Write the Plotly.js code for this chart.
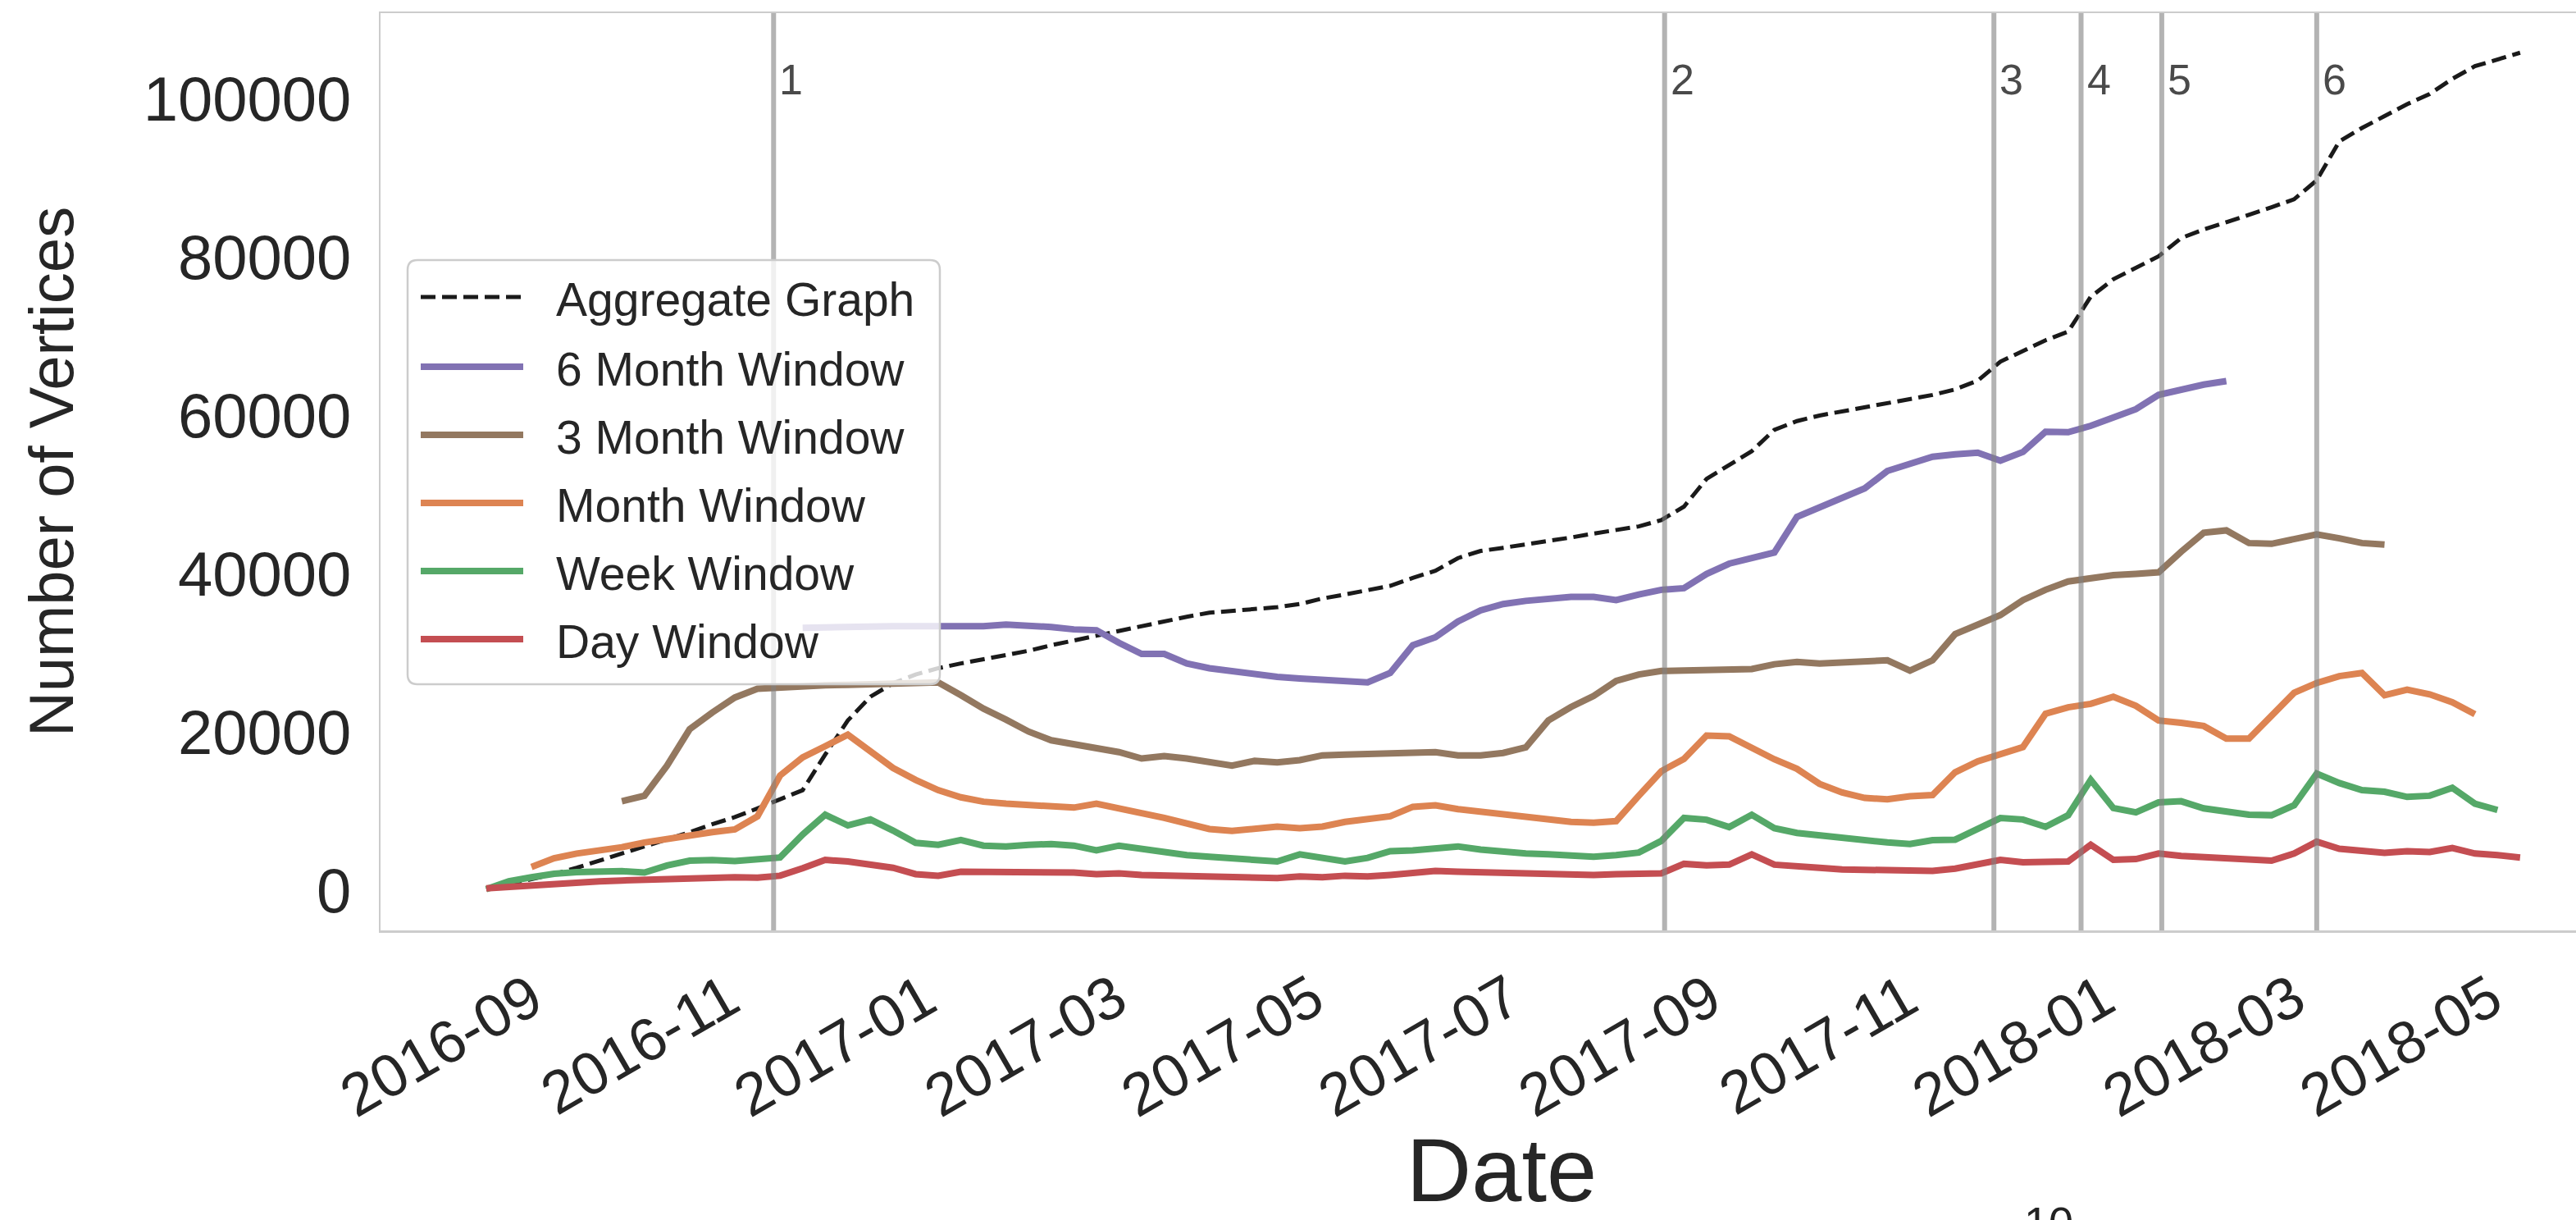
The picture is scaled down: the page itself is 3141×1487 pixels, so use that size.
<!DOCTYPE html>
<html>
<head>
<meta charset="utf-8">
<script src="https://cdn.plot.ly/plotly-3.0.1.min.js"></script>
<style>html,body{margin:0;padding:0;overflow:hidden;background:#fff}</style>
</head>
<body>
<div id="chart" style="width:3200px;height:1487px"></div>
<script>
// ---------- data ----------
const dates = [
 '2016-08-18','2016-08-25','2016-09-01','2016-09-08','2016-09-15','2016-09-22','2016-09-29','2016-10-06','2016-10-13','2016-10-20',
 '2016-10-27','2016-11-03','2016-11-10','2016-11-17','2016-11-24','2016-12-01','2016-12-08','2016-12-15','2016-12-22','2016-12-29',
 '2017-01-05','2017-01-12','2017-01-19','2017-01-26','2017-02-02','2017-02-09','2017-02-16','2017-02-23','2017-03-02','2017-03-09',
 '2017-03-16','2017-03-23','2017-03-30','2017-04-06','2017-04-13','2017-04-20','2017-04-27','2017-05-04','2017-05-11','2017-05-18',
 '2017-05-25','2017-06-01','2017-06-08','2017-06-15','2017-06-22','2017-06-29','2017-07-06','2017-07-13','2017-07-20','2017-07-27',
 '2017-08-03','2017-08-10','2017-08-17','2017-08-24','2017-08-31','2017-09-07','2017-09-14','2017-09-21','2017-09-28','2017-10-05',
 '2017-10-12','2017-10-19','2017-10-26','2017-11-02','2017-11-09','2017-11-16','2017-11-23','2017-11-30','2017-12-07','2017-12-14',
 '2017-12-21','2017-12-28','2018-01-04','2018-01-11','2018-01-18','2018-01-25','2018-02-01','2018-02-08','2018-02-15','2018-02-22',
 '2018-03-01','2018-03-08','2018-03-15','2018-03-22','2018-03-29','2018-04-05','2018-04-12','2018-04-19','2018-04-26','2018-05-03',
 '2018-05-10'];

const aggregate = [
 200,800,1400,2100,2900,3800,4700,5500,6500,7400,
 8400,9300,10400,11500,12700,17200,21500,24500,26200,27300,
 28100,28700,29200,29700,30300,31000,31600,32300,32900,33500,
 34000,34600,35100,35300,35600,35800,36200,36900,37400,37900,
 38500,39500,40400,42000,42900,43300,43700,44100,44600,45100,
 45500,46000,46800,48500,52000,53800,55500,58200,59300,60000,
 60500,61000,61500,62000,62600,63300,64400,66800,68200,69500,
 70600,75000,77200,78700,80100,82400,83500,84400,85300,86300,
 87300,89700,94600,96300,97800,99300,100600,102500,104100,105000,
 105800];

const sixMonth = [
 null,null,null,null,null,null,null,null,null,null,
 null,null,null,null,33200,33300,33300,33400,33400,33400,
 33400,33300,33400,33600,33500,33300,33000,32900,31300,29900,
 29900,28700,28100,27700,27400,27000,26800,26600,26400,26300,
 27500,31000,32000,34000,35400,36200,36600,36900,37100,37100,
 36700,37400,38000,38200,40000,41300,42000,42700,47200,48400,
 49700,50800,53000,53900,54800,55100,55300,54300,55400,57950,
 57900,58700,59800,60800,62600,63300,63900,64350,null,null,
 null,null,null,null,null,null,null,null,null,null,
 null];

const threeMonth = [
 null,null,null,null,null,null,11300,12000,15800,20400,
 22500,24400,25500,25700,25850,25950,26000,26100,26150,26200,
 26300,24700,23000,21600,20100,19000,18500,18100,17500,16700,
 17000,16700,16300,15800,16400,16200,16500,17100,17200,17300,
 17400,17400,17500,17100,17100,17400,18100,21500,23200,24600,
 26500,27300,27750,27800,27850,27900,28000,28600,28900,28700,
 28800,29000,29100,27800,29100,32400,33500,34800,36700,38000,
 39050,39500,39850,40000,40200,42800,45200,45500,43900,43800,
 44500,45000,44500,43900,43700,null,null,null,null,null,
 null];

const month = [
 null,null,3000,4100,4700,5050,5500,6100,6600,7000,
 7400,7750,9400,14550,16850,18250,19700,17600,15500,14000,
 12700,11800,11250,11000,10800,10800,10500,11000,10300,9800,
 9200,8500,7800,7550,7900,8100,7900,8100,8700,9000,
 9400,10600,10800,10300,10000,9700,9200,8900,8700,8600,
 8800,12000,15100,16650,19600,19500,17950,16600,15400,13500,
 12400,11720,11550,11930,12080,14960,16350,17150,18150,22350,
 23160,23600,24500,23350,21500,21200,20800,19200,19200,22100,
 25000,26240,27100,27500,24700,25400,24800,23800,22300,null,
 null];

const week = [
 200,1200,1700,2150,2350,2450,2480,2300,3200,3800,
 3880,3750,3900,4200,7100,9600,8250,9000,7600,6060,
 5800,6400,5700,5600,5800,5900,5700,5100,5700,5300,
 4800,4500,4300,4100,3900,3700,4600,4100,3700,4150,
 5000,5100,5400,5600,5200,4900,4700,4600,4400,4300,
 4500,4830,6300,9200,8970,8040,9600,7900,7300,6950,
 6600,6300,6100,5900,6400,6450,7900,9180,9000,8080,
 9540,14000,10440,9900,11150,11300,10400,10000,9600,9540,
 10800,14800,13600,12700,12500,11850,12000,13000,11000,10200,
 null];

const day = [
 300,500,800,1000,1100,1200,1300,1400,1450,1700,
 1800,1700,1650,1900,2850,3900,3700,3300,2900,2100,
 1900,2400,2400,2300,2300,2400,2300,2100,2200,2000,
 1900,2000,1800,1700,1500,1600,1800,1700,1900,1800,
 2000,2300,2500,2400,2300,2200,2200,2100,2100,2000,
 2100,2100,2200,3400,3200,3300,4600,3300,3000,2900,
 2700,2600,2700,2600,2500,2800,3300,3900,3600,3600,
 3700,5800,3900,4000,4700,4400,4200,4000,3900,3800,
 4700,6200,5300,5000,4800,5000,4900,5400,4700,4500,
 4200];

const seriesNames = ['Aggregate Graph','6 Month Window','3 Month Window','Month Window','Week Window','Day Window'];
const eventDates = ['2016-11-15','2017-08-18','2017-11-28','2017-12-25','2018-01-19','2018-03-08'];
const eventLabels = ['1','2','3','4','5','6'];
const yTicks = [0,20000,40000,60000,80000,100000];

// ---------- styling ----------
const colors = ['#1a1a1a','#8172b3','#937860','#dd8452','#55a868','#c44e52'];
const series = [aggregate, sixMonth, threeMonth, month, week, day];
const DASH = '18px,8px';
const FONT = '"Liberation Sans", Arial, Helvetica, sans-serif';
const TXT = '#262626';

// plot area in pixels (paper coordinates helpers for layout-only elements)
const PL = 464, PR = 3198, PT = 16, PB = 1134;
const fx = px => (px - PL) / (PR - PL);
const fy = py => (PB - py) / (PB - PT);

const traces = series.map((vals, k) => ({
  type: 'scatter', mode: 'lines', x: dates, y: vals, name: seriesNames[k],
  line: {color: colors[k], width: k === 0 ? 5 : 8, dash: k === 0 ? DASH : 'solid'},
  showlegend: false, hoverinfo: 'skip'
}));

const shapes = [];
const annotations = [];

// event lines + labels
eventDates.forEach((d, i) => {
  shapes.push({type: 'line', xref: 'x', yref: 'paper', x0: d, x1: d, y0: 0, y1: 1,
    line: {color: 'rgba(128,128,128,0.6)', width: 6}, layer: 'above'});
  annotations.push({xref: 'x', yref: 'paper', x: d, y: fy(97), xanchor: 'left', yanchor: 'middle',
    xshift: 5, text: eventLabels[i], showarrow: false,
    font: {family: FONT, size: 52, color: '#4a4a4a'}});
});

// legend box (rounded, semi-transparent)
function roundRect(x0, y0, x1, y1, r) {
  const X = fx, Y = fy;
  return `M${X(x0+r)},${Y(y0)} L${X(x1-r)},${Y(y0)} Q${X(x1)},${Y(y0)} ${X(x1)},${Y(y0+r)} ` +
         `L${X(x1)},${Y(y1-r)} Q${X(x1)},${Y(y1)} ${X(x1-r)},${Y(y1)} L${X(x0+r)},${Y(y1)} ` +
         `Q${X(x0)},${Y(y1)} ${X(x0)},${Y(y1-r)} L${X(x0)},${Y(y0+r)} Q${X(x0)},${Y(y0)} ${X(x0+r)},${Y(y0)} Z`;
}
shapes.push({type: 'path', xref: 'paper', yref: 'paper', path: roundRect(497, 317, 1146, 834, 12),
  fillcolor: 'rgba(255,255,255,0.8)', line: {color: '#cccccc', width: 2.5}, layer: 'above'});

const rowY = [362, 447, 530, 613, 696, 779];
seriesNames.forEach((nm, k) => {
  shapes.push({type: 'line', xref: 'paper', yref: 'paper', x0: fx(513), x1: fx(638), y0: fy(rowY[k]), y1: fy(rowY[k]),
    line: {color: colors[k], width: k === 0 ? 5 : 8, dash: k === 0 ? DASH : 'solid'}, layer: 'above'});
  annotations.push({xref: 'paper', yref: 'paper', x: fx(676), y: fy(rowY[k] + 3), xanchor: 'left', yanchor: 'middle',
    text: nm, showarrow: false, font: {family: FONT, size: 57, color: TXT}});
});

// partially visible page number at the bottom (cut off in the reference too)
annotations.push({xref: 'paper', yref: 'paper', x: fx(2498), y: fy(1490), xanchor: 'center', yanchor: 'middle',
  text: '10', showarrow: false, font: {family: FONT, size: 54, color: '#222222'}});

const layout = {
  width: 3200, height: 1487,
  margin: {l: PL, r: 3200 - PR, t: PT, b: 1487 - PB, pad: 0},
  paper_bgcolor: '#ffffff', plot_bgcolor: '#ffffff',
  font: {family: FONT, color: TXT},
  showlegend: false,
  xaxis: {
    type: 'date', range: ['2016-07-16 06:00', '2018-06-10 19:00'],
    tick0: '2016-09-01', dtick: 'M2', tickformat: '%Y-%m', tickangle: -30,
    tickfont: {family: FONT, size: 73, color: TXT}, ticks: '', ticklabelstandoff: 10,
    showgrid: false, zeroline: false, showline: true, linecolor: '#cccccc', linewidth: 2.5, mirror: true,
    title: {text: 'Date', font: {family: FONT, size: 110, color: TXT}, standoff: 26}
  },
  yaxis: {
    range: [-5000, 110800], tickvals: yTicks, tickformat: 'd',
    tickfont: {family: FONT, size: 76, color: TXT}, ticks: '', ticklabelstandoff: 18,
    showgrid: false, zeroline: false, showline: true, linecolor: '#cccccc', linewidth: 2.5, mirror: true,
    title: {text: 'Number of Vertices', font: {family: FONT, size: 76, color: TXT}, standoff: 60}
  },
  shapes: shapes,
  annotations: annotations
};

Plotly.newPlot('chart', traces, layout, {staticPlot: true, displayModeBar: false});
</script>
</body>
</html>
